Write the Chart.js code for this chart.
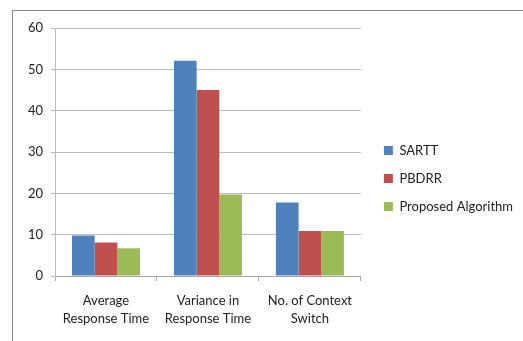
<!DOCTYPE html>
<html>
<head>
<meta charset="utf-8">
<script src="https://cdn.jsdelivr.net/npm/chart.js@4"></script>
<style>
  html, body { margin: 0; padding: 0; background: #fff; overflow: hidden; }
  #wrap { position: relative; width: 523px; height: 341px; overflow: hidden; }
  #frame { position: absolute; left: 12px; top: 10px; width: 700px; height: 500px; border: 1px solid #8a8a8a; }
  canvas { position: absolute; left: 0; top: 0; }
</style>
</head>
<body>
<div id="wrap">
  <div id="frame"></div>
  <canvas id="c" width="523" height="341"></canvas>
</div>
<script>
// Categories (two-line labels) and series values
const categories = [["Average", "Response Time"], ["Variance in", "Response Time"], ["No. of Context", "Switch"]];
const seriesNames = ["SARTT", "PBDRR", "Proposed Algorithm"];
const sartt = [9.8, 52.1, 17.8];
const pbdrr = [8.1, 45.0, 10.9];
const proposed = [6.7, 19.7, 10.9];
const yTicks = [0, 10, 20, 30, 40, 50, 60];

const seriesColors = ["#4F81BD", "#C0504D", "#9BBB59"];
const FONT = "Lato, 'Open Sans', sans-serif";

function draw() {
  const ctx = document.getElementById("c");
  new Chart(ctx, {
    type: "bar",
    data: {
      labels: categories,
      datasets: [sartt, pbdrr, proposed].map((vals, i) => ({
        label: seriesNames[i],
        data: vals,
        backgroundColor: seriesColors[i],
        borderWidth: 0,
        categoryPercentage: 0.667,
        barPercentage: 1.0
      }))
    },
    options: {
      responsive: false,
      animation: false,
      devicePixelRatio: 1,
      layout: { padding: { top: 28, left: 0, right: 0, bottom: 12 } },
      plugins: {
        tooltip: { enabled: false },
        legend: {
          position: "right",
          align: "center",
          maxWidth: 220,
          labels: {
            boxWidth: 9,
            boxHeight: 9,
            padding: 15,
            color: "#222",
            font: { family: FONT, size: 13 }
          }
        }
      },
      scales: {
        x: {
          grid: { drawOnChartArea: false, tickLength: 5, color: "#aaaaaa" },
          border: { color: "#aaaaaa" },
          ticks: { color: "#222", padding: 11, font: { family: FONT, size: 13, lineHeight: 1.4 }, maxRotation: 0 },
          afterFit(s) { s.height = 53; }
        },
        y: {
          min: 0,
          max: 60,
          afterBuildTicks(s) { s.ticks = yTicks.map(v => ({ value: v })); },
          grid: { color: "#bdbdbd", tickLength: 4 },
          border: { color: "#bdbdbd" },
          ticks: { color: "#222", padding: 8, font: { family: FONT, size: 13 } },
          afterFit(s) { s.width = 55; }
        },
        // blank gutter between the plot and the legend
        gap: {
          type: "linear",
          position: "right",
          display: true,
          grid: { display: false, drawTicks: false },
          border: { display: false },
          ticks: { display: false },
          afterFit(s) { s.width = 8; }
        }
      }
    }
  });
}

document.fonts.load("13px Lato").then(draw, draw);
</script>
</body>
</html>
